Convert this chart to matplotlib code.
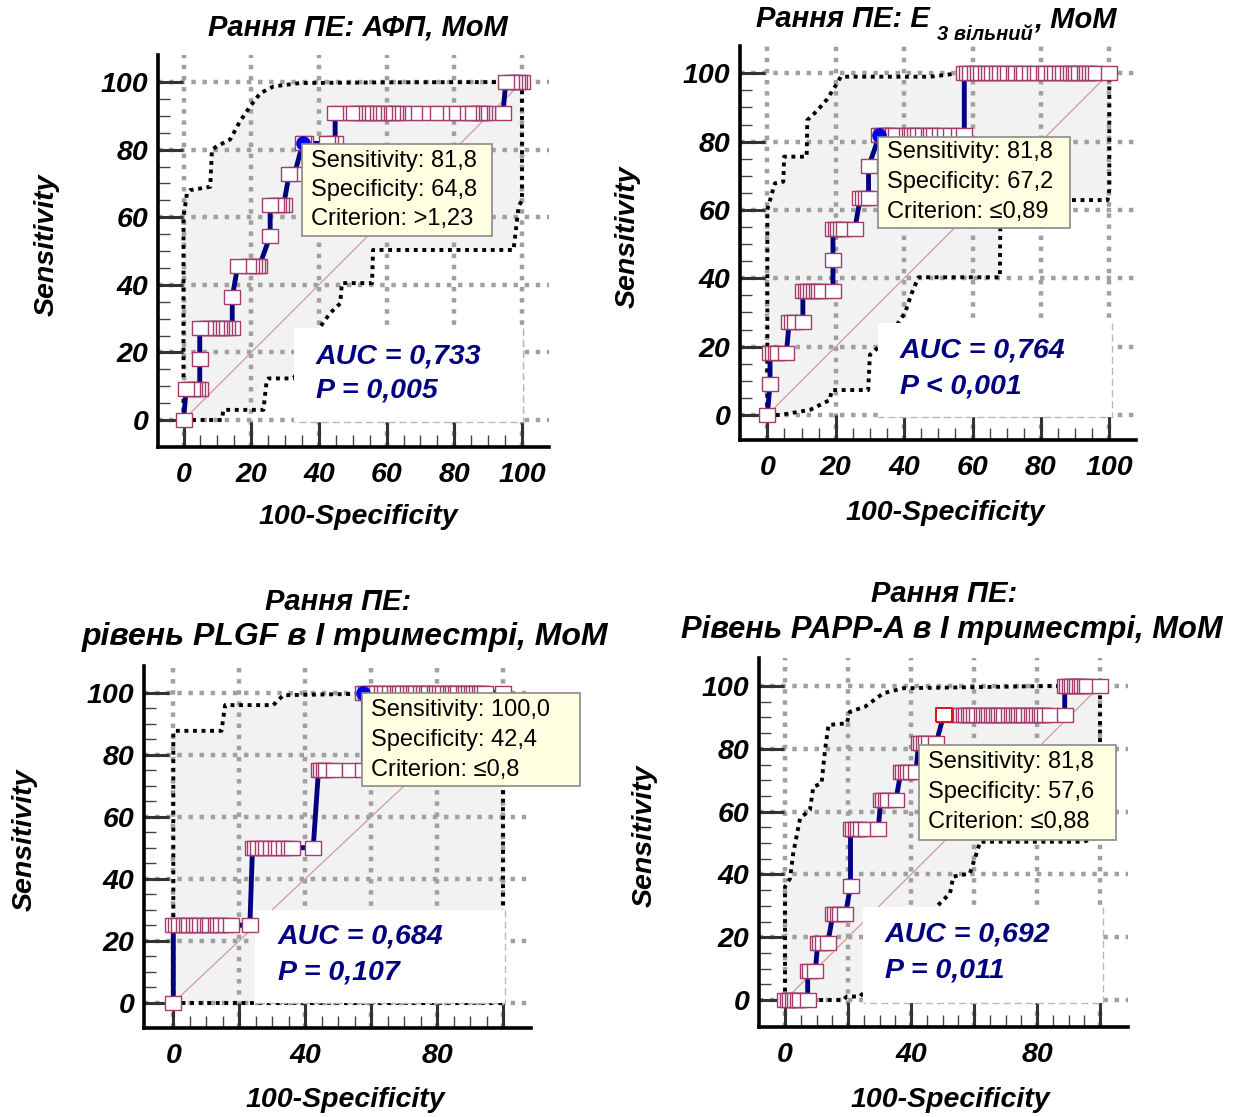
import matplotlib
matplotlib.use("Agg")
import matplotlib.pyplot as plt
from matplotlib.patches import Rectangle
from matplotlib.ticker import FixedLocator

plt.rcParams["font.family"] = ["Liberation Sans", "DejaVu Sans"]

W, H = 1238, 1117

# ---------------------------------------------------------------- data
# Sensitivity levels (11 cases) and (4 cases)
SENS11 = [0.0, 9.09, 18.18, 27.27, 36.36, 45.45, 54.55, 63.64, 72.73, 81.82, 90.91, 100.0]
SENS4 = [0.0, 25.0, 50.0, 75.0, 100.0]

# Panel 1: AFP, MoM  -- 100-Specificity values of the ROC points for each sensitivity level
afp_sens = SENS11
afp_fpr = [
    [0.0],
    [0.8, 2.4, 3.2, 4.0, 4.8],
    [4.8],
    [4.8, 6.4, 7.2, 8.0, 9.6, 10.4, 11.2, 12.0, 12.8, 14.4],
    [14.4],
    [16.0, 19.2, 20.0, 20.8, 21.6, 22.4],
    [25.6],
    [25.6, 27.2, 28.0, 28.8, 29.6],
    [31.2, 32.8],
    [35.2, 36.0, 42.4, 43.2, 44.8],
    [44.8, 45.6, 49.6, 50.4, 51.2, 52.8, 53.6, 54.4, 56.0, 56.8, 57.6, 59.2, 60.0,
     61.6, 62.4, 63.2, 64.8, 68.0, 70.4, 74.4, 76.0, 79.2, 80.8, 84.0, 84.8, 85.6,
     87.2, 88.0, 88.8, 89.6, 94.4],
    [95.2, 96.8, 97.6, 98.4, 99.2, 100.0],
]
afp_upper_x = [0, 0, 1.0, 1.9, 7.9, 8.4, 9.9, 13.8, 16.7, 19.7, 22.7, 26.6, 34.5, 60, 100]
afp_upper_y = [0, 60, 67, 68, 69, 80, 81, 83, 88.4, 92.8, 96.7, 98.7, 99.7, 99.9, 100]
afp_lower_x = [0, 11.3, 11.8, 23.6, 24.6, 25.1, 32.5, 36.0, 40.4, 43.3, 46.3, 46.8,
               55.7, 56.0, 97.5, 99.0, 100, 100]
afp_lower_y = [0, 0, 3.0, 3.0, 11.8, 12.3, 12.3, 18.0, 27.6, 31.6, 34.5, 40.5,
               40.5, 50.3, 50.3, 63.2, 65, 100]
afp_auc = "AUC = 0,733"
afp_p = "P = 0,005"
afp_tip = ["Sensitivity: 81,8", "Specificity: 64,8", "Criterion: >1,23"]
afp_opt = (100 - 64.8, 81.82)

# Panel 2: free estriol, MoM
e3_sens = [0.0, 9.09, 18.18, 27.27, 36.36, 45.45, 54.55, 63.64, 72.73, 81.82, 100.0]
e3_fpr = [
    [0.0],
    [0.8],
    [0.8, 1.6, 2.4, 3.2, 5.6],
    [6.4, 7.2, 8.0, 10.4],
    [10.4, 11.2, 12.0, 12.8, 13.6, 14.4, 15.2, 16.0, 19.2],
    [19.2],
    [19.2, 20.0, 20.8, 21.6, 22.4, 25.6],
    [27.2, 28.0, 28.8, 29.6],
    [29.6],
    [32.8, 33.6, 34.4, 35.2, 36.0, 36.8, 37.6, 40.8, 41.6, 42.4, 43.2, 44.0, 45.6,
     47.2, 48.0, 48.8, 50.4, 52.0, 53.6, 56.0, 57.6],
    [57.6, 58.4, 59.2, 60.8, 61.6, 62.4, 64.0, 64.8, 65.6, 67.2, 68.0, 69.6, 70.4,
     72.0, 72.8, 74.4, 75.2, 76.8, 78.4, 79.2, 80.8, 81.6, 83.2, 84.0, 85.6, 86.4,
     88.0, 88.8, 89.6, 90.4, 91.2, 92.8, 93.6, 94.4, 95.2, 96.0, 100.0],
]
e3_upper_x = [0, 0, 0.8, 2.2, 4.7, 4.9, 5.2, 11.5, 11.7, 14.5, 17.3, 19.8, 21.5, 47.6, 56, 100]
e3_upper_y = [0, 60, 62.9, 67.8, 68.3, 75.6, 75.6, 75.6, 86.3, 89.0, 92.2, 96.1, 99.0, 99.0, 100, 100]
e3_lower_x = [0, 3.7, 12.5, 18.3, 18.8, 29.5, 30.0, 35.0, 40.3, 42.2, 44.2, 68.0,
              68.2, 99.5, 100, 100]
e3_lower_y = [0, 0, 1.5, 4.4, 7.3, 7.3, 17.6, 22.0, 30.0, 35.6, 40.3, 40.3,
              62.9, 62.9, 66, 100]
e3_auc = "AUC = 0,764"
e3_p = "P < 0,001"
e3_tip = ["Sensitivity: 81,8", "Specificity: 67,2", "Criterion: \u22640,89"]
e3_opt = (100 - 67.2, 81.82)

# Panel 3: PLGF, 1st trimester, MoM
plgf_sens = SENS4
plgf_fpr = [
    [0.0],
    [0.0, 0.8, 1.6, 3.2, 4.0, 4.8, 6.4, 7.2, 8.0, 9.6, 10.4, 11.2, 12.8, 13.6, 14.4,
     16.0, 17.6, 23.2],
    [24.0, 24.8, 25.6, 27.2, 28.0, 29.6, 31.2, 32.0, 33.6, 35.2, 36.0, 42.4],
    [44.0, 44.8, 45.6, 46.4, 48.8, 53.6, 57.6],
    [57.6, 58.4, 60.0, 60.8, 61.6, 63.2, 64.0, 65.6, 67.2, 68.0, 68.8, 69.6, 71.2,
     72.0, 72.8, 73.6, 75.2, 76.0, 76.8, 77.6, 79.2, 80.0, 80.8, 81.6, 83.2, 84.0,
     84.8, 85.6, 86.4, 88.0, 88.8, 89.6, 90.4, 91.2, 92.0, 92.8, 93.6, 94.4, 100.0],
]
plgf_upper_x = [0, 0, 0.5, 14.6, 15.7, 30.3, 33.3, 54.5, 58, 100]
plgf_upper_y = [0, 87.4, 87.7, 87.7, 96.0, 96.0, 99.2, 99.6, 100, 100]
plgf_lower_x = [0, 100, 100]
plgf_lower_y = [0, 0, 100]
plgf_auc = "AUC = 0,684"
plgf_p = "P = 0,107"
plgf_tip = ["Sensitivity: 100,0", "Specificity: 42,4", "Criterion: \u22640,8"]
plgf_opt = (100 - 42.4, 100.0)

# Panel 4: PAPP-A, 1st trimester, MoM
papp_sens = [0.0, 9.09, 18.18, 27.27, 36.36, 54.55, 63.64, 72.73, 81.82, 90.91, 100.0]
papp_fpr = [
    [0.0, 0.8, 1.6, 2.4, 3.2, 4.0, 4.8, 7.2],
    [7.2, 8.0, 9.6],
    [10.4, 11.2, 12.0, 13.6],
    [15.2, 16.0, 16.8, 17.6, 19.2],
    [20.8],
    [20.8, 21.6, 22.4, 23.2, 24.0, 25.6, 29.6],
    [30.4, 31.2, 32.0, 32.8, 35.2],
    [36.8, 37.6, 38.4, 39.2, 40.0, 41.6],
    [42.4, 43.2, 44.0, 44.8, 45.6, 48.0],
    [50.4, 55.2, 56.0, 56.8, 57.6, 58.4, 59.2, 60.0, 60.8, 62.4, 63.2, 64.0, 64.8,
     65.6, 66.4, 67.2, 68.0, 68.8, 69.6, 71.2, 72.0, 72.8, 73.6, 74.4, 75.2, 76.0,
     77.6, 78.4, 79.2, 80.0, 80.8, 81.6, 82.4, 84.0, 88.8],
    [88.8, 89.6, 90.4, 91.2, 92.0, 92.8, 93.6, 94.4, 95.2, 96.0, 100.0],
]
papp_upper_x = [0, 0, 1.6, 2.6, 4.8, 7.9, 9.0, 11.6, 12.7, 13.8, 19.6, 20.6, 25.4, 31.2, 37.6, 84, 100]
papp_upper_y = [0, 36.1, 38.7, 46.7, 57.9, 60.5, 67.9, 69.0, 79.6, 87.6, 88.1, 91.8, 93.4, 97.7, 99.3, 100, 100]
papp_lower_x = [0, 18.5, 19.6, 23.8, 30, 36, 42, 47.6, 52.4, 53.4, 58.7, 60.8, 61.9, 94.7, 100, 100]
papp_lower_y = [0, 0, 1.1, 1.1, 8, 15, 22, 29.2, 34.0, 39.3, 40.3, 46.7, 50.4, 50.4, 52, 100]
papp_auc = "AUC = 0,692"
papp_p = "P = 0,011"
papp_tip = ["Sensitivity: 81,8", "Specificity: 57,6", "Criterion: \u22640,88"]

X_LABEL = "100-Specificity"
Y_LABEL = "Sensitivity"

# ---------------------------------------------------------------- style
NAVY = "#000080"
MARK_EDGE = "#a33b6b"
GRID_C = "#a0a0a0"
FILL_C = "#f2f2f2"
TIP_FILL = "#ffffe1"
BOLD_IT = dict(fontweight="bold", fontstyle="italic")
RECT = [(-0.6, -0.5), (0.6, -0.5), (0.6, 0.5), (-0.6, 0.5), (-0.6, -0.5)]

fig = plt.figure(figsize=(W / 100, H / 100), dpi=100)
fig.patch.set_facecolor("white")


def fx(px):
    return px / W


def fy(py):
    return 1 - py / H


def make_axes(box, x0, x100, y0, y100, xlabels):
    left, top, right, bottom = box
    ax = fig.add_axes([fx(left), fy(bottom), (right - left) / W, (bottom - top) / H])
    sx = (x100 - x0) / 100.0
    sy = (y0 - y100) / 100.0
    ax.set_xlim((left - x0) / sx, (right - x0) / sx)
    ax.set_ylim((y0 - bottom) / sy, (y0 - top) / sy)
    ax.set_facecolor("none")
    for s in ("top", "right"):
        ax.spines[s].set_visible(False)
    for s in ("left", "bottom"):
        ax.spines[s].set_linewidth(2.6)
        ax.spines[s].set_color("black")
    ticks = list(range(0, 101, 20))
    ax.set_xticks(ticks, labels=xlabels, fontsize=20.5, **BOLD_IT)
    ax.set_yticks(ticks, labels=[str(t) for t in ticks], fontsize=20.5, **BOLD_IT)
    minor = [v for v in range(5, 100, 5) if v % 20]
    ax.xaxis.set_minor_locator(FixedLocator(minor))
    ax.yaxis.set_minor_locator(FixedLocator(minor))
    ax.tick_params(which="major", direction="in", length=18, width=2.2, color="#333333")
    ax.tick_params(which="minor", direction="in", length=8.5, width=1.0, color="#444444")
    ax.tick_params(axis="x", which="major", pad=11)
    ax.tick_params(axis="y", which="major", pad=7)
    ax.set_axisbelow(True)
    ax.grid(which="major", color=GRID_C, lw=3.2, linestyle=(0, (1, 1.5)))
    return ax


def draw_panel(ax, sens, fpr_rows, up_x, up_y, lo_x, lo_y, reverse, opt=None, red_first=None):
    # confidence band
    poly_x = list(up_x) + list(lo_x)[::-1]
    poly_y = list(up_y) + list(lo_y)[::-1]
    ax.fill(poly_x, poly_y, color=FILL_C, lw=0, zorder=0.3)
    for bx, by in ((up_x, up_y), (lo_x, lo_y)):
        ax.plot(bx, by, color="black", lw=2.8, linestyle=(0, (1, 1.2)),
                dash_capstyle="butt", zorder=1.5)
    ax.plot([0, 100], [0, 100], color="#d39a9a", lw=0.9, zorder=1.6)
    # ROC curve
    xs, ys = [], []
    for s, row in zip(sens, fpr_rows):
        for f in row:
            xs.append(f)
            ys.append(s)
    ax.plot(xs, ys, color=NAVY, lw=3.5, zorder=3, solid_capstyle="butt")
    mx, my = (xs[::-1], ys[::-1]) if reverse else (xs, ys)
    ax.plot(mx, my, linestyle="none", marker=RECT, ms=12, mfc="white",
            mec=MARK_EDGE, mew=1.0, zorder=4)
    if red_first is not None:
        ax.plot([red_first[0]], [red_first[1]], linestyle="none", marker=RECT, ms=12,
                mfc="white", mec="#e01010", mew=1.4, zorder=4.2)
    if opt is not None:
        ax.plot([opt[0]], [opt[1]], linestyle="none", marker="o", ms=9.5,
                mfc="#0000ee", mec="#0000ee", zorder=4.5)


def auc_box(ax, box, text_left, line_y, lines):
    l, t, r, b = box
    ax.add_patch(Rectangle((fx(l), fy(b)), (r - l) / W, (b - t) / H, transform=fig.transFigure,
                           facecolor="white", edgecolor="none", zorder=2))
    ax.plot([fx(r), fx(r), fx(l)], [fy(t), fy(b), fy(b)], transform=fig.transFigure,
            color="#b8b8b8", lw=1.0, linestyle=(0, (5, 3)), zorder=2.1, clip_on=False)
    for yy, s in zip(line_y, lines):
        ax.text(fx(text_left), fy(yy), s, transform=fig.transFigure, fontsize=20.5,
                color=NAVY, ha="left", va="center", zorder=2.2, **BOLD_IT)


def tooltip(ax, box, text_left, line_y, lines):
    l, t, r, b = box
    p = Rectangle((fx(l), fy(b)), (r - l) / W, (b - t) / H, transform=fig.transFigure,
                  facecolor=TIP_FILL, edgecolor="#8a8a8a", lw=1.2, zorder=6)
    ax.add_patch(p)
    p.set_clip_on(False)
    for yy, s in zip(line_y, lines):
        ax.text(fx(text_left), fy(yy), s, transform=fig.transFigure, fontsize=17,
                color="black", ha="left", va="center", zorder=7, clip_on=False)


def labels(xl_pos, yl_pos):
    fig.text(fx(xl_pos[0]), fy(xl_pos[1]), X_LABEL, fontsize=20.5, ha="center", va="center", **BOLD_IT)
    fig.text(fx(yl_pos[0]), fy(yl_pos[1]), Y_LABEL, fontsize=20.5, ha="center", va="center",
             rotation=90, **BOLD_IT)


full_lbl = [str(t) for t in range(0, 101, 20)]
sparse_lbl = ["0", "", "40", "", "80", ""]

# ---- panel 1
ax1 = make_axes((158, 55, 549, 447), 183.5, 522, 420, 82, full_lbl)
draw_panel(ax1, afp_sens, afp_fpr, afp_upper_x, afp_upper_y, afp_lower_x, afp_lower_y,
           reverse=True, opt=afp_opt)
auc_box(ax1, (294, 328, 523, 422), 316, (356, 391), (afp_auc, afp_p))
tooltip(ax1, (302, 144, 492, 236), 311, (161, 190, 219), afp_tip)
labels((358, 517), (47, 245))
fig.text(fx(358), fy(27), "Рання ПЕ: АФП, МоМ", fontsize=21, ha="center", va="center", **BOLD_IT)

# ---- panel 2
ax2 = make_axes((740, 46, 1136, 440), 767.3, 1109.3, 415, 73.3, full_lbl)
draw_panel(ax2, e3_sens, e3_fpr, e3_upper_x, e3_upper_y, e3_lower_x, e3_lower_y,
           reverse=False, opt=e3_opt)
auc_box(ax2, (878, 323, 1112, 417), 900, (350, 386), (e3_auc, e3_p))
tooltip(ax2, (878, 137, 1070, 228), 887, (152, 182, 212), e3_tip)
labels((945, 513), (628, 237))

renderer = fig.canvas.get_renderer()
t_main = fig.text(fx(756), fy(27), "Рання ПЕ: E", fontsize=21, ha="left", va="baseline", **BOLD_IT)
bb = t_main.get_window_extent(renderer)
t_sub = fig.text((bb.x1 + 7) / W, fy(40), "3 вільний", fontsize=14.5, ha="left", va="baseline", **BOLD_IT)
bb2 = t_sub.get_window_extent(renderer)
fig.text((bb2.x1 + 2) / W, fy(27), ", МоМ", fontsize=21, ha="left", va="baseline", **BOLD_IT)

# ---- panel 3
ax3 = make_axes((144, 666, 531, 1028), 173.3, 503.3, 1002.7, 692.7, sparse_lbl)
draw_panel(ax3, plgf_sens, plgf_fpr, plgf_upper_x, plgf_upper_y, plgf_lower_x, plgf_lower_y,
           reverse=False, opt=plgf_opt)
auc_box(ax3, (255, 910, 505, 1003), 278, (937, 972), (plgf_auc, plgf_p))
tooltip(ax3, (362, 693, 580, 786), 371, (710, 740, 770), plgf_tip)
labels((345, 1100), (25, 840))
fig.text(fx(338), fy(602), "Рання ПЕ:", fontsize=21, ha="center", va="center", **BOLD_IT)
fig.text(fx(345), fy(637), "рівень PLGF в I триместрі, МоМ", fontsize=23, ha="center",
         va="center", **BOLD_IT)

# ---- panel 4
ax4 = make_axes((759, 658, 1128, 1027), 785, 1100, 1000, 686, sparse_lbl)
draw_panel(ax4, papp_sens, papp_fpr, papp_upper_x, papp_upper_y, papp_lower_x, papp_lower_y,
           reverse=False, red_first=(papp_fpr[9][0], papp_sens[9]))
auc_box(ax4, (863, 907, 1103, 1003), 885, (934, 970), (papp_auc, papp_p))
tooltip(ax4, (919, 745, 1116, 840), 928, (762, 792, 822), papp_tip)
labels((950, 1100), (645, 836))
fig.text(fx(944), fy(594), "Рання ПЕ:", fontsize=21, ha="center", va="center", **BOLD_IT)
fig.text(fx(952), fy(630), "Рівень PAPP-A в I триместрі, МоМ", fontsize=22.2, ha="center",
         va="center", **BOLD_IT)

fig.savefig("out.png", dpi=100, facecolor="white")
